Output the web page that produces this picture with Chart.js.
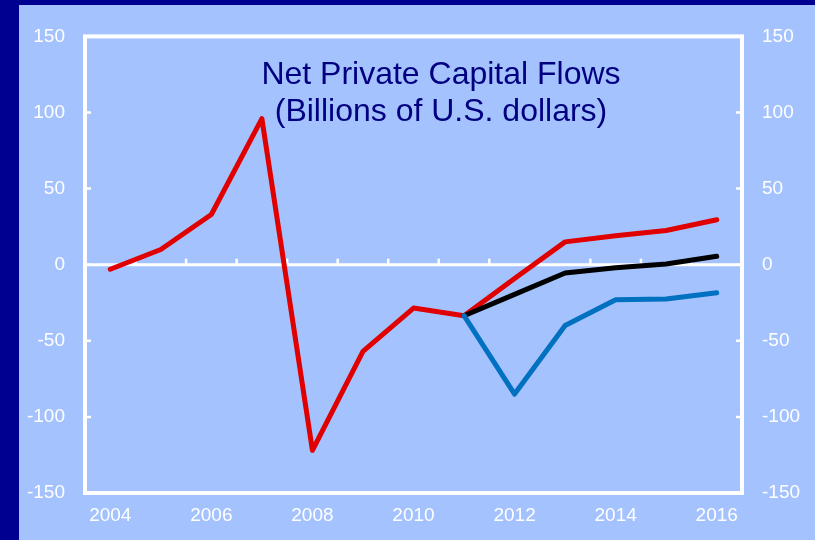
<!DOCTYPE html>
<html>
<head>
<meta charset="utf-8">
<script src="https://cdn.jsdelivr.net/npm/chart.js@4.4.0/dist/chart.umd.min.js"></script>
<style>
  html, body { margin: 0; padding: 0; background: #000090; overflow: hidden; }
  #panel { position: absolute; left: 19px; top: 5px; width: 796px; height: 535px; background: #a4c2fd; }
</style>
</head>
<body>
<div id="panel"><canvas id="flowChart" width="796" height="535"></canvas></div>
<script>
// net private capital flows, billions of U.S. dollars
const years = ["2004", "2005", "2006", "2007", "2008", "2009", "2010", "2011", "2012", "2013", "2014", "2015", "2016"];
const redFlows = [-3, 10, 33, 96, -122, -57, -28.5, -33.5, -9, 15, 19, 22.5, 29.5];
const blackFlows = [null, null, null, null, null, null, null, -33.5, -19.5, -5.5, -2, 0.5, 5.5];
const blueFlows = [null, null, null, null, null, null, null, -33.5, -85, -40, -23, -22.5, -18.5];
const yTicks = [-150, -100, -50, 0, 50, 100, 150];
const titleLines = ["Net Private Capital Flows", "(Billions of U.S. dollars)"];

const white = "#ffffff";
const tickFont = { family: "'Liberation Sans', Arial, sans-serif", size: 19 };

// white frame, zero line, inner tick marks and the title inside the plot
const framePlugin = {
    id: "frame",
    beforeDatasetsDraw(chart) {
        const { ctx, chartArea: a, scales } = chart;
        const y0 = scales.y.getPixelForValue(0);
        ctx.save();
        ctx.strokeStyle = white;

        ctx.lineWidth = 3;
        ctx.beginPath();
        ctx.moveTo(a.left, y0);
        ctx.lineTo(a.right, y0);
        ctx.stroke();

        // year boundaries on the zero line
        ctx.lineWidth = 2.5;
        const step = (a.right - a.left) / years.length;
        for (let i = 1; i < years.length; i++) {
            const x = a.left + step * i;
            ctx.beginPath();
            ctx.moveTo(x, y0);
            ctx.lineTo(x, y0 - 6);
            ctx.stroke();
        }

        yTicks.forEach(v => {
            const y = scales.y.getPixelForValue(v);
            ctx.beginPath();
            ctx.moveTo(a.left, y);
            ctx.lineTo(a.left + 6, y);
            ctx.moveTo(a.right, y);
            ctx.lineTo(a.right - 6, y);
            ctx.stroke();
        });

        ctx.lineWidth = 4;
        ctx.strokeRect(a.left, a.top, a.right - a.left, a.bottom - a.top);

        ctx.fillStyle = "#000080";
        ctx.font = "32px 'Liberation Sans', Arial, sans-serif";
        ctx.textAlign = "center";
        ctx.textBaseline = "alphabetic";
        const cx = a.left + 356;
        ctx.fillText(titleLines[0], cx, a.top + 48);
        ctx.fillText(titleLines[1], cx, a.top + 85);
        ctx.restore();
    }
};

const lineSet = (label, data, color) => ({
    label: label,
    data: data,
    borderColor: color,
    backgroundColor: color,
    borderWidth: 5,
    pointRadius: 0,
    tension: 0,
    spanGaps: false,
    borderCapStyle: "round",
    borderJoinStyle: "round",
});

new Chart(document.getElementById("flowChart"), {
    type: "line",
    data: {
        labels: years,
        datasets: [
            lineSet("Downside", blueFlows, "#0070c0"),
            lineSet("Baseline", blackFlows, "#000000"),
            lineSet("Upside", redFlows, "#e00000"),
        ],
    },
    options: {
        responsive: false,
        animation: false,
        layout: { padding: { top: 29, left: 0, right: 0, bottom: 0 } },
        plugins: { legend: { display: false }, tooltip: { enabled: false } },
        scales: {
            x: {
                offset: true,
                grid: { display: false, drawTicks: false },
                border: { display: false },
                ticks: {
                    color: white,
                    font: tickFont,
                    padding: 11,
                    autoSkip: false,
                    maxRotation: 0,
                    callback: (v, i) => (i % 2 === 0 ? years[i] : ""),
                },
                afterFit: s => { s.height = 47; },
            },
            y: {
                position: "left",
                min: -150,
                max: 150,
                grid: { display: false, drawTicks: false },
                border: { display: false },
                ticks: { color: white, font: tickFont, padding: 20, stepSize: 50 },
                afterFit: s => { s.width = 66; },
            },
            y2: {
                position: "right",
                min: -150,
                max: 150,
                grid: { display: false, drawTicks: false },
                border: { display: false },
                ticks: { color: white, font: tickFont, padding: 20, stepSize: 50 },
                afterFit: s => { s.width = 73; },
            },
        },
    },
    plugins: [framePlugin],
});
</script>
</body>
</html>
